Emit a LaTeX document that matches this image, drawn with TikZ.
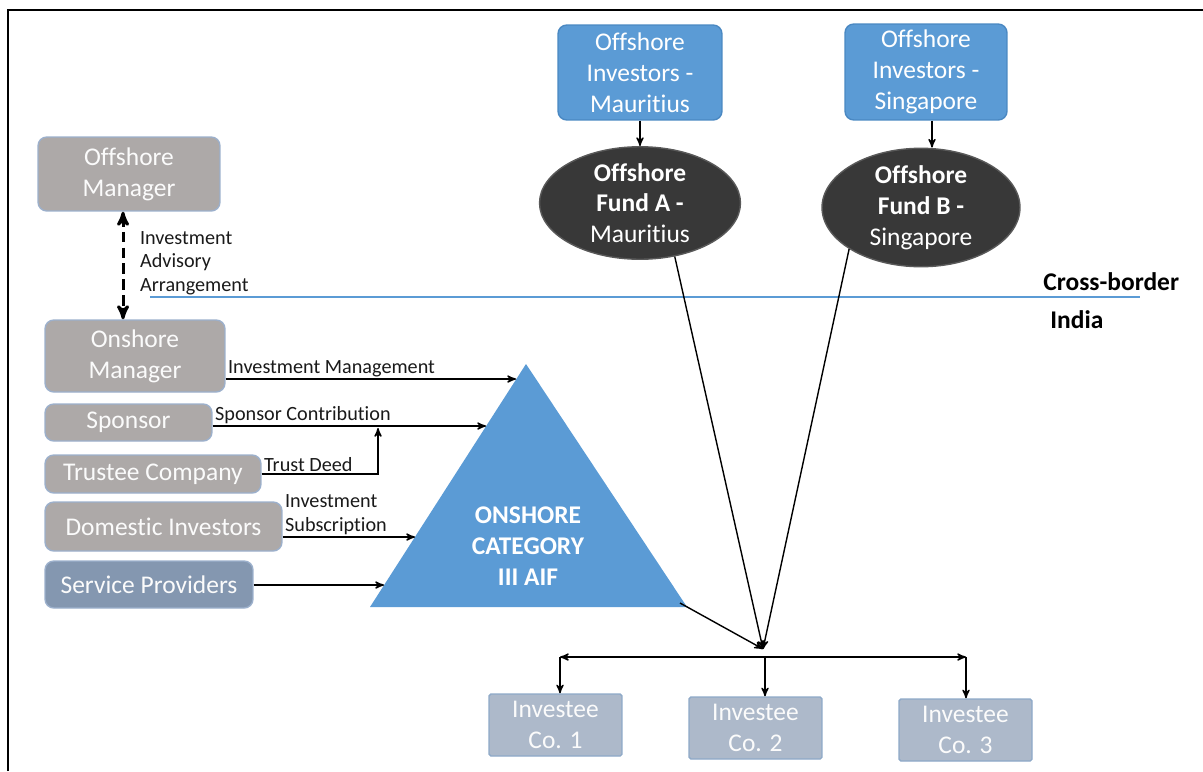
\documentclass[tikz,border=0pt]{standalone}
\usepackage{fontspec}
\setmainfont{Carlito}[Ligatures=NoCommon]
\usetikzlibrary{shapes, shapes.geometric, arrows}

\definecolor{partygrey}{HTML}{ADA9A8}
\definecolor{partyedge}{HTML}{9CB0CC}
\definecolor{provblue}{HTML}{8497B0}
\definecolor{aifblue}{HTML}{5B9BD5}
\definecolor{aifedge}{HTML}{4A88C2}
\definecolor{funddark}{HTML}{383838}
\definecolor{cofill}{HTML}{ADB9CA}
\definecolor{coedge}{HTML}{8EA9C8}
\definecolor{labelink}{HTML}{1A1A1A}

\begin{document}
\begin{tikzpicture}[x=0.02cm, y=-0.02cm, >=stealth',
    party/.style={draw=partyedge, line width=0.8pt, fill=partygrey, rounded corners=5pt,
        text=white!97!gray, align=center, inner sep=0pt,
        font=\fontsize{14.5}{17.5}\selectfont},
    provider/.style={party, fill=provblue},
    investor/.style={party, draw=aifedge, fill=aifblue, text=white},
    fund/.style={ellipse, draw=gray!70!black, line width=0.8pt, fill=funddark, text=white,
        align=center, inner sep=0pt, font=\fontsize{14.5}{17.5}\selectfont},
    investee/.style={party, draw=coedge, fill=cofill, rounded corners=1pt},
    flow/.style={->, line width=0.8pt, black},
    lbl/.style={text=labelink, inner sep=1pt, align=left, font=\fontsize{11.5}{13.5}\selectfont},
    zone/.style={text=black, inner sep=0pt, font=\fontsize{14.5}{17.5}\selectfont\bfseries}]

    \useasboundingbox (0,0) rectangle (1203,771);
    % frame of the screenshot
    \draw[line width=1.4pt] (8,771) -- (8,10) -- (1203,10);

    % cross-border split
    \draw[aifblue, line width=0.8pt] (150,297) -- (1140,297);
    \node[zone, anchor=west] (CrossBorder) at (1043,282) {Cross-border};
    \node[zone, anchor=west] (India)       at (1050,320) {India};

    % parties on the left
    \node[party, minimum width=3.64cm, minimum height=1.48cm] (OffshoreManager) at (129,174)   {Offshore\\Manager};
    \node[party, minimum width=3.60cm, minimum height=1.44cm] (OnshoreManager)  at (135,356)   {Onshore\\Manager};
    \node[party, minimum width=3.34cm, minimum height=0.74cm] (Sponsor)         at (128.5,422.5) {Sponsor};
    \node[party, minimum width=4.32cm, minimum height=0.76cm] (Trustee)         at (153,474)   {Trustee Company};
    \node[party, minimum width=4.74cm, minimum height=0.98cm] (Domestic)        at (163.5,526.5) {Domestic Investors};
    \node[provider, minimum width=4.16cm, minimum height=0.94cm] (Providers)    at (149,584.5) {Service Providers};

    % offshore side
    \node[investor, minimum width=3.28cm, minimum height=1.90cm] (InvMauritius) at (640,72.5) {Offshore\\Investors -\\Mauritius};
    \node[investor, minimum width=3.24cm, minimum height=1.92cm] (InvSingapore) at (926,72)   {Offshore\\Investors -\\Singapore};
    \node[fund, minimum width=4.02cm, minimum height=2.20cm] (FundA) at (640,203)   {\textbf{Offshore}\\\textbf{Fund A -}\\Mauritius};
    \node[fund, minimum width=3.96cm, minimum height=2.30cm] (FundB) at (921,207.5) {\textbf{Offshore}\\\textbf{Fund B -}\\Singapore};

    % the onshore fund
    \coordinate (AifApex)  at (526,364);
    \coordinate (AifLeft)  at (370,607);
    \coordinate (AifRight) at (687,607);
    \fill[aifblue] (AifApex) -- (AifLeft) -- (AifRight) -- cycle;
    \node[text=white, align=center, font=\fontsize{14.5}{17.5}\selectfont\bfseries] (AIF) at (528,546)
        {ONSHORE\\CATEGORY\\III AIF};

    % investee companies
    \node[investee, minimum width=2.66cm, minimum height=1.24cm] (CoOne)   at (555.5,725) {Investee\\Co. 1};
    \node[investee, minimum width=2.66cm, minimum height=1.24cm] (CoTwo)   at (755.5,728) {Investee\\Co. 2};
    \node[investee, minimum width=2.66cm, minimum height=1.24cm] (CoThree) at (965.5,730) {Investee\\Co. 3};

    \coordinate (MgmtIn)    at (516,379);
    \coordinate (SponsorIn) at (486,426);
    \coordinate (TrustIn)   at (378,428);
    \coordinate (SubscrIn)  at (415,537);
    \coordinate (ProvIn)    at (384,585);
    \coordinate (AifOut)    at (680,603);
    \coordinate (Hub)       at (763,649);
    \coordinate (Split)     at (765,657);
    \coordinate (BarWest)   at (560,657);
    \coordinate (BarEast)   at (966,657);

    % flows into the AIF
    \draw[<->, line width=1.7pt, dash pattern=on 6pt off 3pt]
        ([xshift=-3.4pt]OffshoreManager.south) -- ([xshift=-3.4pt]OffshoreManager.south |- OnshoreManager.north);
    \node[lbl, anchor=west] (Advisory) at (138,263) {Investment\\Advisory\\Arrangement};

    \draw[flow] (OnshoreManager.east |- MgmtIn) -- node[lbl, pos=0, above right] {Investment Management} (MgmtIn);
    \draw[flow] (Sponsor.east |- SponsorIn) -- node[lbl, pos=0, above right] {Sponsor Contribution} (SponsorIn);
    \draw[flow] (Trustee.east) -| node[lbl, pos=0, above right] {Trust Deed} (TrustIn);
    \draw[flow] (Domestic.east |- SubscrIn) -- node[lbl, pos=0, above right] {Investment\\Subscription} (SubscrIn);
    \draw[flow] (Providers.east |- ProvIn) -- (ProvIn);

    % offshore chain
    \path[flow]
    (InvMauritius) edge (FundA)
    (InvSingapore.south -| 932,0) edge (FundB.north -| 932,0)
    (FundA.-57)    edge (Hub)
    (FundB.-150)   edge (Hub)
    (AifOut)       edge (Hub);

    % out to the investee companies
    \path[flow]
    (Split)   edge (BarWest)
              edge (BarEast)
              edge (Split |- CoTwo.north)
    (BarWest) edge (BarWest |- CoOne.north)
    (BarEast) edge (BarEast |- CoThree.north);

\end{tikzpicture}
\end{document}
